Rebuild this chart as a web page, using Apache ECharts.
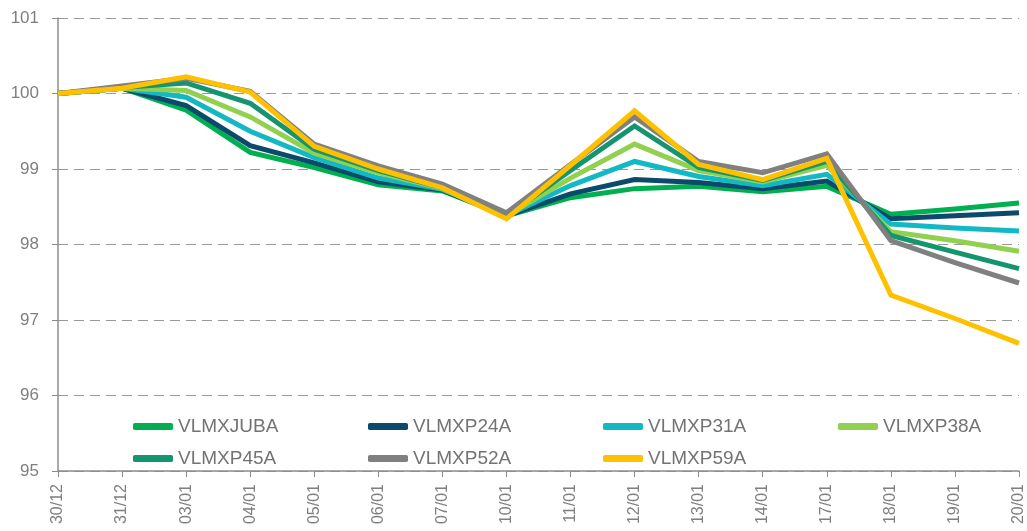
<!DOCTYPE html>
<html lang="en">
<head>
    <meta charset="UTF-8">
    <title>VLMX</title>
    <script src="https://cdn.jsdelivr.net/npm/echarts@6/dist/echarts.min.js"></script>
</head>
<style>
    html, body { margin: 0; padding: 0; background: #fff; }
    #main { width: 1027px; height: 531px; }
</style>
<body>
<div id="main"></div>
<script>
    // dates on the x axis
    var dates = ['30/12','31/12','03/01','04/01','05/01','06/01','07/01','10/01',
                 '11/01','12/01','13/01','14/01','17/01','18/01','19/01','20/01'];

    var yTicks = [95, 96, 97, 98, 99, 100, 101];

    var seriesNames = ['VLMXJUBA','VLMXP24A','VLMXP31A','VLMXP38A','VLMXP45A','VLMXP52A','VLMXP59A'];

    var juba = [100, 100.07, 99.78, 99.22, 99.02, 98.79, 98.71, 98.38, 98.62, 98.74, 98.77, 98.70, 98.77, 98.40, 98.47, 98.55];
    var p24  = [100, 100.07, 99.84, 99.31, 99.08, 98.83, 98.72, 98.38, 98.67, 98.86, 98.82, 98.74, 98.84, 98.34, 98.38, 98.42];
    var p31  = [100, 100.07, 99.95, 99.50, 99.15, 98.88, 98.73, 98.38, 98.78, 99.10, 98.90, 98.78, 98.93, 98.27, 98.22, 98.18];
    var p38  = [100, 100.07, 100.04, 99.69, 99.21, 98.95, 98.74, 98.38, 98.88, 99.33, 98.98, 98.83, 99.05, 98.17, 98.05, 97.91];
    var p45  = [100, 100.08, 100.14, 99.87, 99.26, 98.98, 98.75, 98.38, 98.98, 99.57, 99.02, 98.85, 99.10, 98.12, 97.90, 97.68];
    var p52  = [100, 100.10, 100.20, 100.03, 99.33, 99.04, 98.80, 98.42, 99.06, 99.69, 99.10, 98.95, 99.20, 98.05, 97.76, 97.49];
    var p59  = [100, 100.07, 100.22, 100.02, 99.30, 99.00, 98.75, 98.34, 99.05, 99.77, 99.06, 98.86, 99.14, 97.33, 97.02, 96.69];

    var values = [juba, p24, p31, p38, p45, p52, p59];
    var colors = ['#00B050', '#0B4A6A', '#12B9C4', '#92D050', '#14956F', '#808080', '#FFC000'];

    // legend slots (2 rows x 4 columns)
    var legendLeft = [128, 363, 598, 833];
    var legendTop = [412, 444];

    var series = [];
    var legends = [];
    for (var i = 0; i < seriesNames.length; i++) {
        series.push({
            name: seriesNames[i],
            type: 'line',
            data: values[i],
            symbol: 'none',
            lineStyle: { width: 5, color: colors[i], join: 'miter' },
            itemStyle: { color: colors[i] }
        });
        legends.push({
            data: [seriesNames[i]],
            left: legendLeft[i % 4],
            top: legendTop[Math.floor(i / 4)],
            itemWidth: 40,
            itemHeight: 7,
            icon: 'roundRect',
            selectedMode: false,
            textStyle: { fontFamily: 'Liberation Sans, Arial', fontSize: 19, color: '#737373' }
        });
    }

    var myChart = echarts.init(document.getElementById('main'));
    var option = {
        animation: false,
        backgroundColor: '#fff',
        legend: legends,
        grid: { left: 58, right: 7, top: 18, bottom: 60, containLabel: false },
        xAxis: {
            type: 'category',
            data: dates,
            boundaryGap: false,
            axisLine: { lineStyle: { color: '#8c8c8c', width: 1.5 } },
            axisTick: { show: true, interval: 0, length: 6, lineStyle: { color: '#8c8c8c' } },
            axisLabel: {
                interval: 0,
                rotate: 90,
                margin: 13,
                fontFamily: 'Liberation Sans, Arial',
                fontSize: 16,
                color: '#7f7f7f'
            },
            splitLine: { show: false }
        },
        yAxis: {
            type: 'value',
            min: yTicks[0],
            max: yTicks[yTicks.length - 1],
            interval: 1,
            axisLine: { show: true, lineStyle: { color: '#8c8c8c', width: 1.5 } },
            axisTick: { show: true, length: 6, lineStyle: { color: '#8c8c8c' } },
            axisLabel: {
                margin: 19,
                fontFamily: 'Liberation Sans, Arial',
                fontSize: 17,
                color: '#7f7f7f'
            },
            splitLine: { show: true, lineStyle: { color: '#999', type: [10, 6], width: 1.2 } }
        },
        series: series
    };
    myChart.setOption(option);
</script>
</body>
</html>
